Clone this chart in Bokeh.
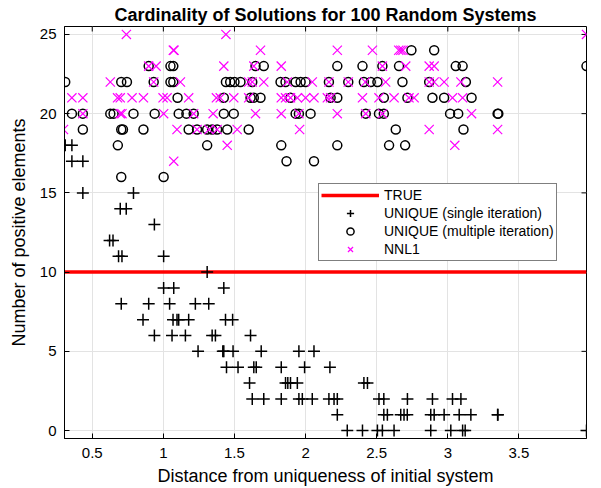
import math

from bokeh.plotting import figure
from bokeh.models import FixedTicker, Legend, LegendItem
from bokeh.embed import file_html
from bokeh.resources import INLINE

# Axis limits and ticks
X_LIMITS = (0.305, 3.975)
Y_LIMITS = (-0.5, 25.5)
X_TICKS = [0.5, 1, 1.5, 2, 2.5, 3, 3.5]
Y_TICKS = [0, 5, 10, 15, 20, 25]

# True number of positive elements
TRUE_K = 10

# UNIQUE, single iteration: count -> distances
single_iter = {
    18: [0.31, 0.357],
    17: [0.357, 0.434],
    15: [0.434, 0.79],
    14: [0.697, 0.739],
    13: [0.937],
    12: [0.622, 0.646],
    11: [0.685, 0.709, 1.002],
    10: [1.308],
    9: [1.002, 1.073, 1.425],
    8: [0.704, 0.897, 1.044, 1.225, 1.319],
    7: [0.857, 1.068, 1.096, 1.108, 1.178, 1.437, 1.487],
    6: [0.937, 1.061, 1.155, 1.343, 1.366, 1.613],
    5: [1.244, 1.418, 1.425, 1.49, 1.688, 1.953, 2.059],
    4: [1.444, 1.525, 1.636, 1.653, 1.829, 1.993, 2.171],
    3: [1.606, 1.859, 1.875, 1.894, 1.942, 2.41, 2.435],
    2: [1.625, 1.706, 1.829, 1.953, 1.977, 2.047, 2.164, 2.2, 2.223,
        2.516, 2.55, 2.716, 2.892, 3.033, 3.092],
    1: [2.223, 2.55, 2.575, 2.669, 2.692, 2.715, 2.88, 2.904, 2.974,
        3.08, 3.162, 3.35, 3.352],
    0: [2.293, 2.40, 2.505, 2.54, 2.622, 2.88, 3.021, 3.104, 3.122, 3.975],
}

# UNIQUE, multiple iterations: count -> distances
multi_iter = {
    24: [2.744, 2.904],
    23: [0.897, 1.05, 1.07, 1.648, 1.706, 2.223, 2.40, 2.54, 2.657,
         3.056, 3.104, 3.975],
    22: [0.31, 0.704, 0.744, 0.932, 1.05, 1.07, 1.44, 1.47, 1.50, 1.542,
         1.625, 1.824, 1.859, 1.93, 1.965, 2.0, 2.164, 2.30, 2.41, 2.458,
         2.505, 2.681, 2.869, 3.127],
    21: [1.10, 1.425, 1.613, 1.636, 1.683, 1.894, 2.176, 2.223, 2.55,
         2.716, 2.892, 2.974, 3.167],
    20: [0.357, 0.434, 0.627, 0.65, 0.79, 0.939, 1.108, 1.162, 1.213,
         1.425, 1.495, 1.93, 1.953, 2.035, 2.423, 2.516, 2.55, 3.016,
         3.073, 3.35, 3.355],
    19: [0.434, 0.704, 0.716, 0.86, 1.178, 1.237, 1.308, 1.343, 1.378,
         1.449, 1.60, 2.634, 3.11],
    18: [0.68, 1.308, 1.829, 2.223, 2.587, 2.70],
    17: [1.866, 2.059],
    16: [0.704, 1.002],
}

# NNL1: count -> distances
nnl1 = {
    25: [0.74, 1.44, 3.975],
    24: [1.07, 1.075, 1.683, 2.223, 2.47, 2.655, 2.67, 2.685],
    23: [0.897, 0.949, 1.425, 1.636, 1.829, 2.54, 2.704, 2.869, 2.904],
    22: [0.627, 0.932, 1.12, 1.60, 1.625, 1.706, 1.871, 2.047, 2.164,
         2.30, 2.42, 2.563, 2.869, 2.904, 2.974, 3.092, 3.35],
    21: [0.357, 0.434, 0.678, 0.697, 0.78, 0.86, 0.998, 1.026, 1.178,
         1.373, 1.40, 1.495, 1.60, 1.829, 1.859, 1.894, 1.942, 2.0,
         2.059, 2.153, 2.176, 2.40, 2.516, 2.622, 2.727, 2.763, 3.033,
         3.104],
    20: [0.434, 0.697, 0.709, 1.002, 1.213, 1.35, 1.648, 1.829, 1.953,
         2.223, 2.423, 2.54, 3.167],
    19: [0.298, 1.096, 1.237, 1.32, 1.378, 1.519, 1.958, 2.869, 3.35],
    18: [1.449, 3.049],
    17: [1.073],
}


def flatten(table):
    xs, ks = [], []
    for k, dists in table.items():
        xs.extend(dists)
        ks.extend([k] * len(dists))
    return xs, ks


FONT = "Liberation Sans"

p = figure(
    width=601, height=488,
    x_range=X_LIMITS, y_range=Y_LIMITS,
    output_backend="svg", toolbar_location=None,
    min_border_left=64, min_border_right=15,
    min_border_top=25, min_border_bottom=50,
    background_fill_color="white", border_fill_color="white",
)

p.title.text = "Cardinality of Solutions for 100 Random Systems"
p.title.text_font = FONT
p.title.text_font_size = "18px"
p.title.text_font_style = "bold"
p.title.text_color = "black"
p.title.align = "center"
p.title.vertical_align = "bottom"
p.title.standoff = 4

p.outline_line_color = "black"
p.outline_line_width = 1

for ax in (p.xaxis[0], p.yaxis[0]):
    ax.major_tick_in = 5
    ax.major_tick_out = 0
    ax.minor_tick_line_color = None
    ax.axis_line_color = "black"
    ax.major_tick_line_color = "black"
    ax.major_label_text_font = FONT
    ax.major_label_text_font_size = "15px"
    ax.major_label_text_color = "black"
    ax.axis_label_text_font = FONT
    ax.axis_label_text_font_size = "18px"
    ax.axis_label_text_font_style = "normal"
    ax.axis_label_text_color = "black"

p.xaxis[0].ticker = FixedTicker(ticks=X_TICKS)
p.yaxis[0].ticker = FixedTicker(ticks=Y_TICKS)
p.xaxis[0].axis_label = "Distance from uniqueness of initial system"
p.yaxis[0].axis_label = "Number of positive elements"
p.xaxis[0].major_label_standoff = 9
p.xaxis[0].axis_label_standoff = 5
p.yaxis[0].major_label_standoff = 8
p.yaxis[0].axis_label_standoff = 8

p.grid.grid_line_color = "#e3e3e3"
p.grid.grid_line_width = 1
p.xgrid.ticker = FixedTicker(ticks=X_TICKS)
p.ygrid.ticker = FixedTicker(ticks=Y_TICKS)

# Inward tick marks on the top and right edges of the box
# (dashes centred on the edge; the outer half is clipped by the frame)
p.scatter(x=X_TICKS, y=[Y_LIMITS[1]] * len(X_TICKS), marker="dash",
          angle=math.pi / 2, size=10, line_color="black", line_width=1)
p.scatter(x=[X_LIMITS[1]] * len(Y_TICKS), y=Y_TICKS, marker="dash",
          size=10, line_color="black", line_width=1)

sx, sk = flatten(single_iter)
mx, mk = flatten(multi_iter)
nx, nk = flatten(nnl1)

r_true = p.line(x=list(X_LIMITS), y=[TRUE_K, TRUE_K],
                line_color="#ff0000", line_width=3.5)
r_single = p.scatter(x=sx, y=sk, marker="cross", size=12,
                     line_color="black", line_width=1.5)
r_multi = p.scatter(x=mx, y=mk, marker="circle", size=9,
                    line_color="black", fill_color=None, line_width=1.5)
r_nnl1 = p.scatter(x=nx, y=nk, marker="x", size=13,
                   line_color="#ff00ff", line_width=1.2)

legend = Legend(
    items=[
        LegendItem(label="TRUE", renderers=[r_true]),
        LegendItem(label="UNIQUE (single iteration)", renderers=[r_single]),
        LegendItem(label="UNIQUE (multiple iteration)", renderers=[r_multi]),
        LegendItem(label="NNL1", renderers=[r_nnl1]),
    ],
    location=(254, 177),
    margin=0,
    padding=2,
    spacing=0,
    label_height=18,
    glyph_height=18,
    glyph_width=58,
    label_standoff=5,
    label_text_font=FONT,
    label_text_font_size="14px",
    label_text_color="black",
    border_line_color="black",
    border_line_width=1,
    background_fill_color="white",
    background_fill_alpha=1.0,
)
p.add_layout(legend, "center")

open("out.html", "w").write(file_html(p, INLINE))
